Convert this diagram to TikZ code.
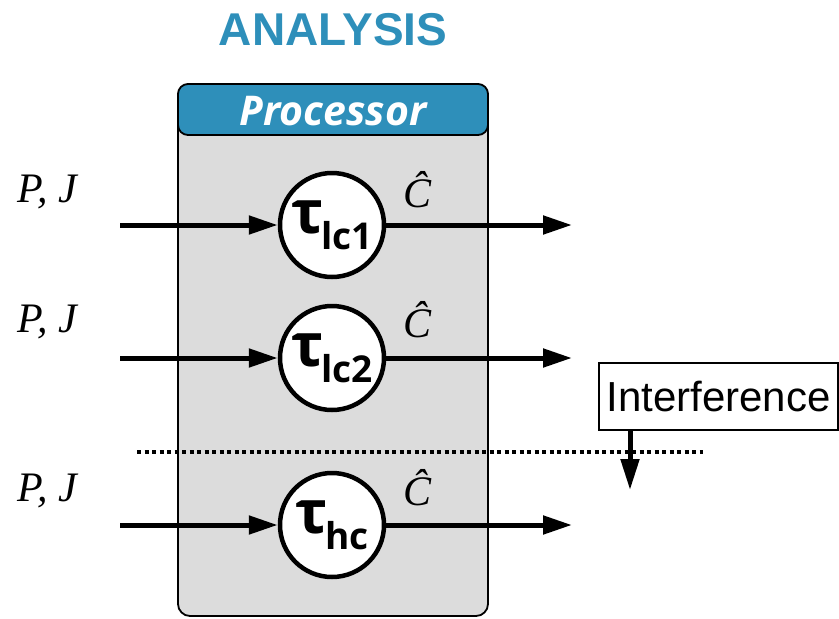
\documentclass[tikz,border=0pt]{standalone}
\usepackage{fontspec}
\setmainfont{Liberation Sans}
\newfontfamily\osans{Open Sans}
\newfontfamily\mserif{Liberation Serif}
\usetikzlibrary{arrows.meta}
\definecolor{hdrblue}{HTML}{2E8FBA}
\definecolor{boxgrey}{HTML}{DCDCDC}
\newcommand\tautext[1]{{\osans\bfseries\fontsize{60}{60}\selectfont τ\kern-2pt\raisebox{-16pt}{\fontsize{37}{37}\selectfont #1}}}
\begin{document}
\begin{tikzpicture}[x=1pt,y=-1pt,
  taskc/.style={circle, draw, line width=4.5pt, fill=white, minimum size=104pt, inner sep=0pt},
  flow/.style={line width=5pt, -{Triangle[length=29pt,width=18pt]}},
  mlabel/.style={font=\mserif\itshape\fontsize{42}{42}\selectfont},
  chat/.style={font=\mserif\itshape\fontsize{42}{42}\selectfont}]
\useasboundingbox (0,0) rectangle (839,619);
\node[font=\fontsize{46}{46}\selectfont\bfseries, text=hdrblue] (title) at (333,30) {ANALYSIS};
% processor box
\draw[line width=1.8pt, fill=boxgrey, rounded corners=12pt] (178,84) rectangle (488,616);
\draw[line width=1.8pt, fill=hdrblue, rounded corners=10pt] (178,84) rectangle (488,135);
\node[font=\osans\bfseries\itshape\fontsize{41}{41}\selectfont, text=white] (proc) at (333,111) {Processor};
% dotted separator
\coordinate (d1) at (137,452);
\coordinate (d2) at (703,452);
\draw[line width=3.5pt, dash pattern=on 4pt off 3.5pt] (d1) -- (d2);
% tasks
\node[taskc] (t1) at (332,225) {\tautext{lc1}};
\node[taskc] (t2) at (332,358) {\tautext{lc2}};
\node[taskc] (t3) at (332,525) {\tautext{hc}};
\coordinate (i1) at (120,225); \coordinate (o1) at (572,225);
\coordinate (i2) at (120,358); \coordinate (o2) at (572,358);
\coordinate (i3) at (120,525); \coordinate (o3) at (572,525);
\draw[flow] (i1) -- (t1); \draw[flow] (t1) -- (o1);
\draw[flow] (i2) -- (t2); \draw[flow] (t2) -- (o2);
\draw[flow] (i3) -- (t3); \draw[flow] (t3) -- (o3);
% labels
\node[mlabel] (pj1) at (47,192) {P, J};
\node[mlabel] (pj2) at (47,322) {P, J};
\node[mlabel] (pj3) at (47,491) {P, J};
\node[chat] (c1) at (418,190) {\^{C}};
\node[chat] (c2) at (418,320) {\^{C}};
\node[chat] (c3) at (418,488) {\^{C}};
% interference
\node[draw, line width=1.5pt, fill=white, minimum width=239pt, minimum height=67pt, inner sep=0pt,
  font=\fontsize{42}{42}\selectfont] (intf) at (718.5,396.5) {Interference};
\coordinate (ia) at (630,430);
\coordinate (ib) at (630,490);
\draw[line width=5pt, -{Triangle[length=31pt,width=18pt]}] (ia) -- (ib);
\end{tikzpicture}
\end{document}
